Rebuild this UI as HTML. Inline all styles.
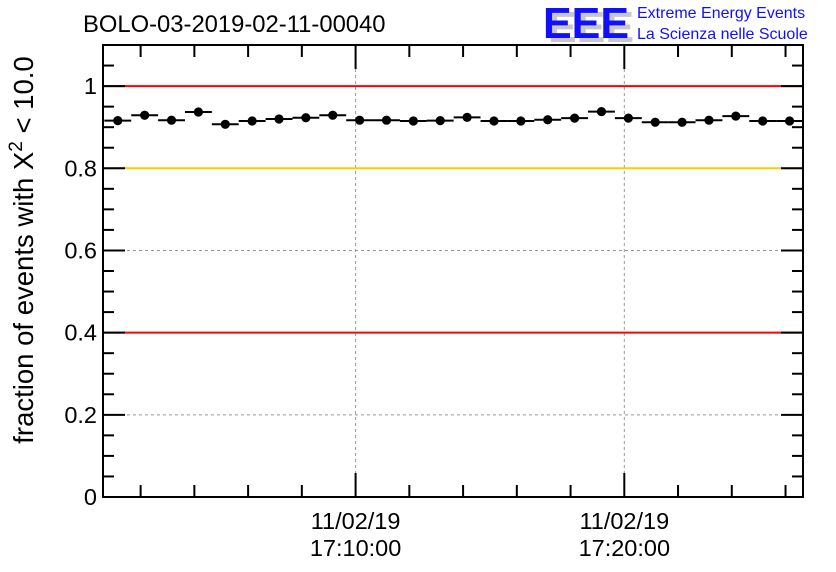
<!DOCTYPE html>
<html><head><meta charset="utf-8"><style>
html,body{margin:0;padding:0;background:#fff;}
svg{display:block;font-family:"Liberation Sans",sans-serif;}
</style></head><body>
<svg id="chart" width="836" height="572" viewBox="0 0 836 572">
<text x="83" y="32" font-size="23.8" fill="#000">BOLO-03-2019-02-11-00040</text>
<g>
<text x="548" y="42" font-size="44" font-weight="bold" fill="#c8c8c8" textLength="86" lengthAdjust="spacingAndGlyphs">EEE</text>
<text x="543" y="38" font-size="44" font-weight="bold" fill="#1010ff" textLength="86" lengthAdjust="spacingAndGlyphs">EEE</text>
<text x="637" y="18" font-size="16" fill="#1010ff">Extreme Energy Events</text>
<text x="637" y="39" font-size="16" fill="#1010ff">La Scienza nelle Scuole</text>
</g>
<text transform="translate(33,250) rotate(-90)" text-anchor="middle" font-size="27.5" fill="#000">fraction of events with X<tspan dy="-11" font-size="19">2</tspan><tspan dy="11"> &lt; 10.0</tspan></text>
<g id="plot"></g>
</svg>
<script>
const values=[0.916,0.929,0.917,0.937,0.907,0.915,0.920,0.923,0.929,0.917,0.917,0.915,0.916,0.924,0.915,0.915,0.918,0.922,0.938,0.922,0.912,0.912,0.917,0.927,0.915,0.915];
const firstOffsetSec=-531; // first bin center, seconds relative to 17:10:00
const binSec=60;
const xTickLabels=[["11/02/19","17:10:00",0],["11/02/19","17:20:00",600]];
const yTickLabels=["0","0.2","0.4","0.6","0.8","1"];
const refLines=[[1,"#ff0000"],[0.8,"#ffcc00"],[0.4,"#ff0000"]];

const L=103,R=803,T=45,B=497;
const tMin=-564,tMax=999;
const X=t=>L+(t-tMin)/(tMax-tMin)*(R-L);
const Y=v=>B-v/1.1*(B-T);
const NS="http://www.w3.org/2000/svg";
const g=document.getElementById('plot');
function mk(tag,attrs){const e=document.createElementNS(NS,tag);for(const k in attrs)e.setAttribute(k,attrs[k]);g.appendChild(e);return e;}

[0,600].forEach(t=>{const e=mk('line',{x1:X(t),x2:X(t),y1:T,y2:B,stroke:'#999','stroke-dasharray':'3,3','stroke-width':1});

});
[0.2,0.6].forEach(v=>{const e=mk('line',{x1:L,x2:R,y1:Y(v),y2:Y(v),stroke:'#999','stroke-dasharray':'3,3','stroke-width':1});

});
refLines.forEach(([v,c])=>{const e=mk('line',{x1:L,x2:R,y1:Y(v),y2:Y(v),stroke:c,'stroke-width':2});

});
const fr=mk('rect',{x:L,y:T,width:R-L,height:B-T,fill:'none',stroke:'#000','stroke-width':2});


for(let i=0;i<=22;i++){const v=i*0.05;const major=i%4===0;const len=major?22:11;
[[L,L+len],[R,R-len]].forEach(([a,b])=>{const e=mk('line',{x1:a,x2:b,y1:Y(v),y2:Y(v),stroke:'#000','stroke-width':2});

});}
yTickLabels.forEach((s,i)=>{const e=mk('text',{x:L-6,y:Y(i*0.2)+8,'text-anchor':'end','font-size':23.5});e.textContent=s;

});
for(let t=-480;t<=960;t+=120){const major=t%600===0;const len=major?24:12;
[[B,B-len],[T,T+len]].forEach(([a,b])=>{const e=mk('line',{x1:X(t),x2:X(t),y1:a,y2:b,stroke:'#000','stroke-width':2});

});}
xTickLabels.forEach(([d,h,t])=>{const e=mk('text',{x:X(t),y:529,'text-anchor':'middle','font-size':23.5});e.textContent=d;


const e2=mk('text',{x:X(t),y:556,'text-anchor':'middle','font-size':23.5});e2.textContent=h;

});
values.forEach((v,i)=>{const t=firstOffsetSec+i*binSec;
const bar=mk('line',{x1:X(t-binSec/2),x2:X(t+binSec/2),y1:Y(v),y2:Y(v),stroke:'#000','stroke-width':2});


const c=mk('circle',{cx:X(t),cy:Y(v),r:4.6,fill:'#000'});

});
</script>
</body></html>
